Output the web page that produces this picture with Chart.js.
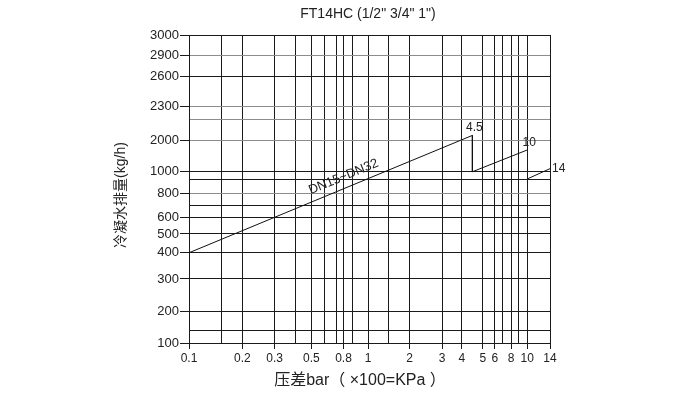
<!DOCTYPE html>
<html>
<head>
  <meta charset="utf-8">
  <title>FT14HC</title>
  <style>
    html, body { margin: 0; padding: 0; background: #fff; }
  </style>
</head>
<body>
  <canvas id="chart" width="700" height="394"></canvas>

  <script src="https://cdn.jsdelivr.net/npm/chart.js@4.4.0/dist/chart.umd.min.js"></script>
  <script>
    // Values
    const seg45X = [0.1, 4.5];
    const seg45Y = [400, 2050];
    const seg10X = [4.5, 4.5, 10];
    const seg10Y = [2050, 1000, 1700];
    const seg14X = [10, 14];
    const seg14Y = [910, 1100];

    const xTickLabels = [0.1, 0.2, 0.3, 0.5, 0.8, 1, 2, 3, 4, 5, 6, 8, 10, 14];
    const yTickLabels = [100, 200, 300, 400, 500, 600, 800, 1000, 2000, 2300, 2600, 2900, 3000];

    // The printed axes are hand drawn and uneven: grid value -> share of the axis length
    const xScaleMap = [
      [0.1, 0], [0.15, 0.091], [0.2, 0.148], [0.3, 0.237], [0.4, 0.295], [0.5, 0.339],
      [0.6, 0.374], [0.7, 0.408], [0.8, 0.428], [0.9, 0.453], [1, 0.496], [1.5, 0.554],
      [2, 0.611], [3, 0.701], [4, 0.756], [5, 0.814], [6, 0.847], [7, 0.869],
      [8, 0.892], [9, 0.913], [10, 0.937], [14, 1]
    ];
    const yScaleMap = [
      [100, 0], [140, 0.039], [200, 0.102], [300, 0.208], [400, 0.293], [500, 0.354],
      [600, 0.407], [700, 0.446], [800, 0.485], [900, 0.530], [1000, 0.556], [2000, 0.657],
      [2200, 0.725], [2300, 0.767], [2600, 0.865], [2900, 0.933], [3000, 1]
    ];
    const scaleMaps = {x: xScaleMap, y: yScaleMap};

    // scale that follows the grid of the printed chart, piecewise between grid lines
    class GridMapScale extends Chart.LinearScale {
      static id = 'gridmap';
      static defaults = {};

      determineDataLimits() {
        const m = scaleMaps[this.id];
        this.min = m[0][0];
        this.max = m[m.length - 1][0];
      }
      buildTicks() {
        return scaleMaps[this.id].map(p => ({value: p[0]}));
      }
      getPixelForValue(value) {
        const m = scaleMaps[this.id];
        let f = value <= m[0][0] ? 0 : 1;
        for (let i = 0; i < m.length - 1; i++) {
          if (value >= m[i][0] && value <= m[i + 1][0]) {
            f = m[i][1] + (value - m[i][0]) / (m[i + 1][0] - m[i][0]) * (m[i + 1][1] - m[i][1]);
            break;
          }
        }
        return this.getPixelForDecimal(f);
      }
      getValueForPixel(pixel) {
        const m = scaleMaps[this.id];
        const f = this.getDecimalForPixel(pixel);
        for (let i = 0; i < m.length - 1; i++) {
          if (f >= m[i][1] && f <= m[i + 1][1]) {
            return m[i][0] + (f - m[i][1]) / (m[i + 1][1] - m[i][1]) * (m[i + 1][0] - m[i][0]);
          }
        }
        return f <= 0 ? m[0][0] : m[m.length - 1][0];
      }
    }
    Chart.register(GridMapScale);

    function points(xs, ys) {
      return xs.map((x, i) => ({x: x, y: ys[i]}));
    }

    const latin = '"Liberation Sans", Arial, sans-serif';
    const mixed = '"Liberation Sans", "Noto Sans CJK SC", sans-serif';
    const ink = '#222';

    // titles and curve labels
    const textPlugin = {
      id: 'texts',
      afterDraw(chart) {
        const ctx = chart.ctx;
        const x = chart.scales.x, y = chart.scales.y;
        ctx.save();
        ctx.fillStyle = ink;
        ctx.textAlign = 'center';
        ctx.textBaseline = 'middle';

        ctx.font = '14px ' + latin;
        ctx.fillText('FT14HC (1/2" 3/4" 1")', 368, 14);

        ctx.font = '16px ' + mixed;
        ctx.fillText('压差bar（ ×100=KPa ）', 360, 381);

        ctx.save();
        ctx.translate(121, 195);
        ctx.rotate(-Math.PI / 2);
        ctx.font = '14px ' + mixed;
        ctx.fillText('冷凝水排量(kg/h)', 0, 0);
        ctx.restore();

        // DN15~DN32 along the first segment
        const x0 = x.getPixelForValue(seg45X[0]), y0 = y.getPixelForValue(seg45Y[0]);
        const x1 = x.getPixelForValue(seg45X[1]), y1 = y.getPixelForValue(seg45Y[1]);
        const ang = Math.atan2(y1 - y0, x1 - x0);
        const tx = x0 + (x1 - x0) * 0.56, ty = y0 + (y1 - y0) * 0.56;
        ctx.save();
        ctx.translate(tx + Math.sin(ang) * 11, ty - Math.cos(ang) * 11);
        ctx.rotate(ang);
        ctx.font = '13px ' + latin;
        ctx.fillText('DN15~DN32', 0, 0);
        ctx.restore();

        ctx.font = '12px ' + latin;
        ctx.textBaseline = 'bottom';
        ctx.fillText('4.5', x1 + 2, y1 - 2);
        const e10 = seg10X.length - 1;
        ctx.fillText('10', x.getPixelForValue(seg10X[e10]) + 2, y.getPixelForValue(seg10Y[e10]) - 1);
        ctx.textAlign = 'left';
        ctx.textBaseline = 'middle';
        const e14 = seg14X.length - 1;
        ctx.fillText('14', x.getPixelForValue(seg14X[e14]) + 2, y.getPixelForValue(seg14Y[e14]));
        ctx.restore();
      }
    };

    const lineStyle = {
      borderColor: '#111',
      borderWidth: 1,
      pointRadius: 0,
      tension: 0,
      fill: false
    };

    new Chart('chart', {
      type: 'line',
      data: {
        datasets: [
          Object.assign({label: '4.5', data: points(seg45X, seg45Y)}, lineStyle),
          Object.assign({label: '10', data: points(seg10X, seg10Y)}, lineStyle),
          Object.assign({label: '14', data: points(seg14X, seg14Y)}, lineStyle)
        ]
      },
      options: {
        responsive: false,
        animation: false,
        parsing: false,
        layout: {padding: {top: 35, right: 150, left: 0, bottom: 0}},
        plugins: {
          legend: {display: false},
          title: {display: false},
          tooltip: {enabled: false}
        },
        scales: {
          x: {
            type: 'gridmap',
            position: 'bottom',
            afterFit: s => { s.height = 51; },
            grid: {
              color: '#1a1a1a',
              lineWidth: 1,
              tickLength: 6,
              tickColor: c => xTickLabels.includes(c.tick.value) ? '#1a1a1a' : 'rgba(0,0,0,0)'
            },
            border: {color: '#1a1a1a'},
            ticks: {
              autoSkip: false,
              maxRotation: 0,
              padding: 2,
              color: ink,
              font: {family: latin, size: 12},
              callback: v => xTickLabels.includes(v) ? String(v) : ''
            }
          },
          y: {
            type: 'gridmap',
            position: 'left',
            afterFit: s => { s.width = 189; },
            grid: {
              color: c => [2900, 2300, 2200, 2000, 800].includes(c.tick.value) ? '#8c8c8c' : '#1a1a1a',
              lineWidth: 1,
              tickLength: 9,
              tickColor: c => yTickLabels.includes(c.tick.value) ? '#1a1a1a' : 'rgba(0,0,0,0)'
            },
            border: {color: '#1a1a1a'},
            ticks: {
              autoSkip: false,
              padding: 1,
              color: ink,
              font: {family: latin, size: 13},
              callback: v => yTickLabels.includes(v) ? String(v) : ''
            }
          }
        }
      },
      plugins: [textPlugin]
    });
  </script>
</body>
</html>
